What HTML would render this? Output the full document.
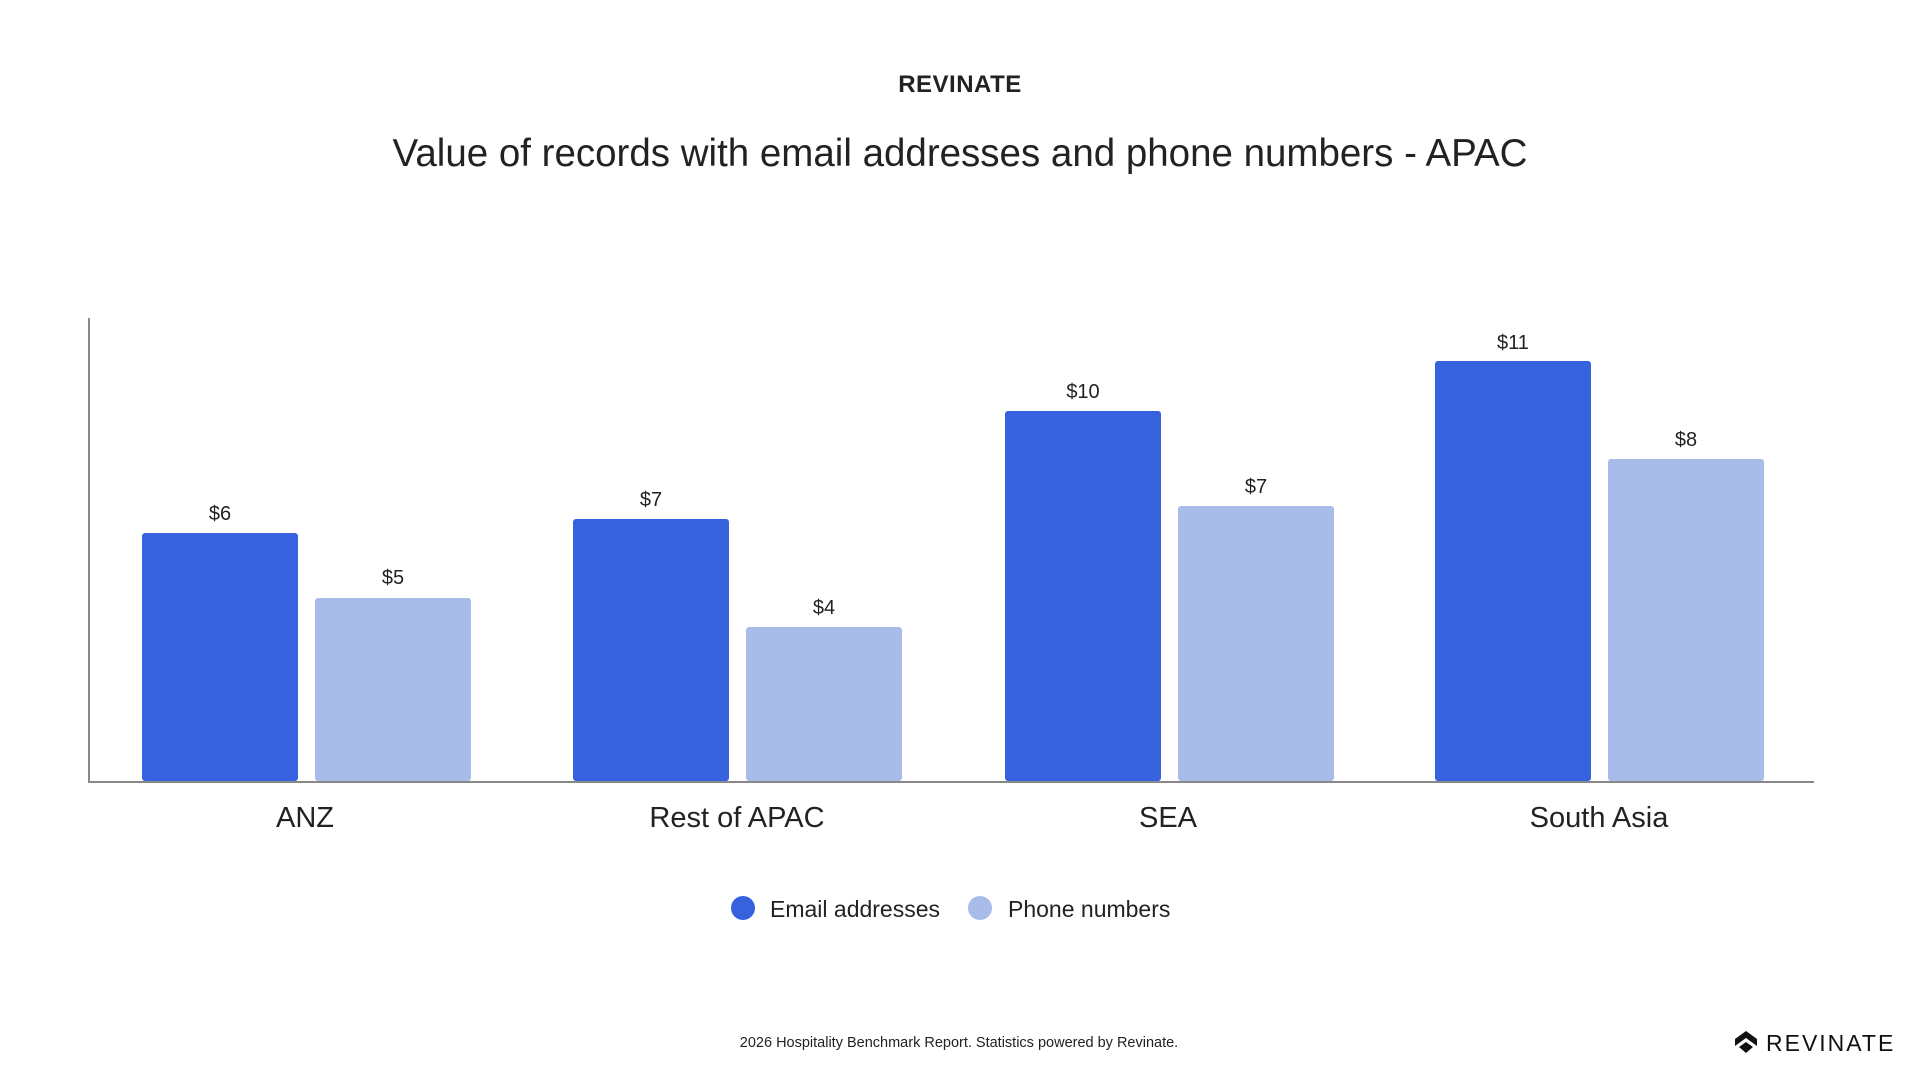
<!DOCTYPE html>
<html><head><meta charset="utf-8"><style>
html,body{margin:0;padding:0;background:#fff;}
body{width:1920px;height:1080px;overflow:hidden;font-family:"Liberation Sans",sans-serif;}
</style></head><body>
<svg width="1920" height="1080" xmlns="http://www.w3.org/2000/svg" font-family="Liberation Sans, sans-serif">
<text x="960" y="92" text-anchor="middle" font-size="24" font-weight="bold" fill="#222" letter-spacing="0.5">REVINATE</text>
<text x="960" y="166" text-anchor="middle" font-size="38.5" fill="#222">Value of records with email addresses and phone numbers - APAC</text>
<g fill="#3663DD">
<rect x="142" y="533" width="156" height="248" rx="3"/>
<rect x="573" y="519" width="156" height="262" rx="3"/>
<rect x="1005" y="411" width="156" height="370" rx="3"/>
<rect x="1435" y="361" width="156" height="420" rx="3"/>
</g>
<g fill="#A9BBE9">
<rect x="315" y="598" width="156" height="183" rx="3"/>
<rect x="746" y="627" width="156" height="154" rx="3"/>
<rect x="1178" y="506" width="156" height="275" rx="3"/>
<rect x="1608" y="459" width="156" height="322" rx="3"/>
</g>
<line x1="89" y1="318" x2="89" y2="782" stroke="#888" stroke-width="2"/>
<line x1="88" y1="782" x2="1814" y2="782" stroke="#888" stroke-width="2"/>
<g font-size="20" fill="#222" text-anchor="middle">
<text x="220" y="520">$6</text>
<text x="393" y="584">$5</text>
<text x="651" y="506">$7</text>
<text x="824" y="614">$4</text>
<text x="1083" y="398">$10</text>
<text x="1256" y="493">$7</text>
<text x="1513" y="349">$11</text>
<text x="1686" y="446">$8</text>
</g>
<g font-size="29" fill="#222" text-anchor="middle">
<text x="305" y="827">ANZ</text>
<text x="737" y="827">Rest of APAC</text>
<text x="1168" y="827">SEA</text>
<text x="1599" y="827">South Asia</text>
</g>
<circle cx="743" cy="908" r="12" fill="#3663DD"/>
<text x="770" y="917" font-size="23" fill="#222">Email addresses</text>
<circle cx="980" cy="908" r="12" fill="#A9BBE9"/>
<text x="1008" y="917" font-size="23" fill="#222">Phone numbers</text>
<text x="959" y="1047" text-anchor="middle" font-size="14.5" fill="#222">2026 Hospitality Benchmark Report. Statistics powered by Revinate.</text>
<g fill="#111">
<path d="M1746 1031 L1757 1039 L1757 1046 L1746 1038 L1735 1046 L1735 1039 Z"/>
<path d="M1746 1042 L1753 1047 L1746 1053 L1739 1047 Z"/>
</g>
<text x="1766" y="1051" font-size="23" fill="#111" letter-spacing="2">REVINATE</text>
</svg>
</body></html>
